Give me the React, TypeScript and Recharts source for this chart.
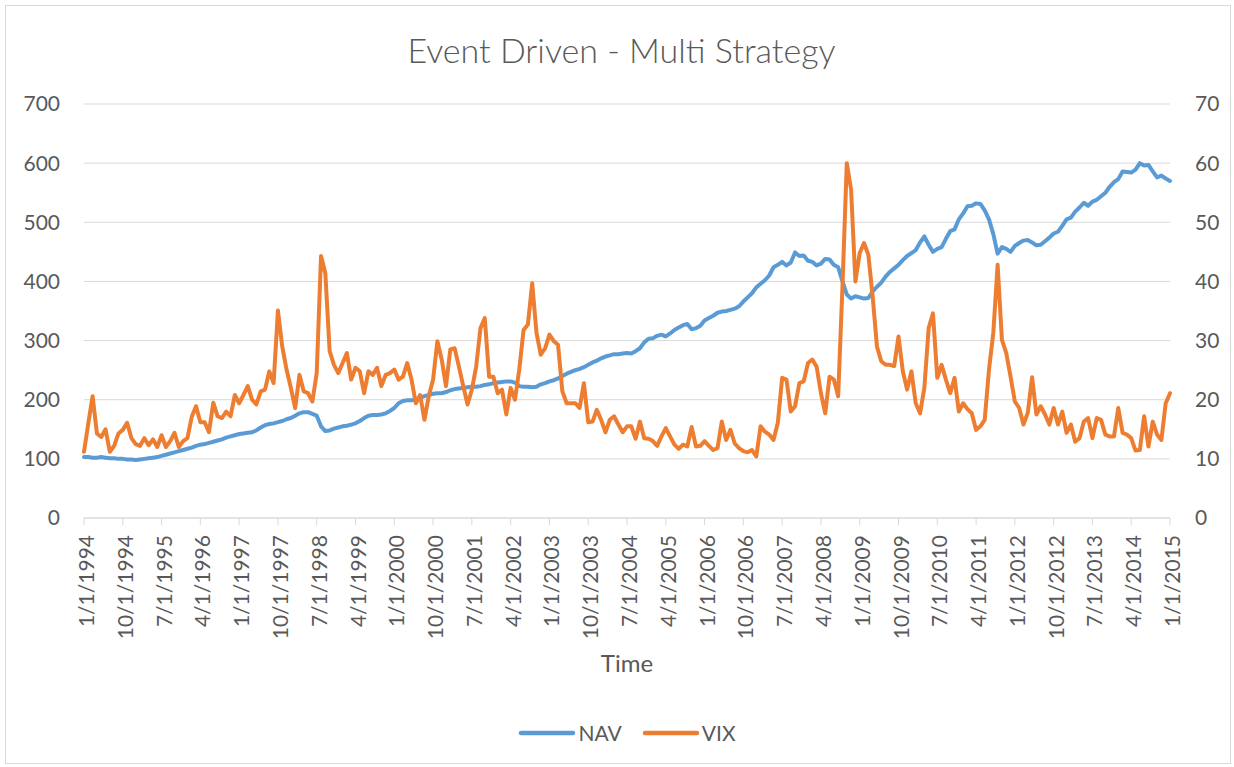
import React from 'react';
import { LineChart, Line, XAxis, YAxis, CartesianGrid, Legend } from 'recharts';

const TITLE = 'Event Driven - Multi Strategy';
const X_AXIS_TITLE = 'Time';
const SERIES_NAMES = ['NAV', 'VIX'];

// Monthly observations, Jan 1994 .. Jan 2015 (253 months)
const NAV = [
  103, 103, 102, 102, 103, 102, 101, 101, 100, 100,
  99, 99, 98, 99, 100, 101, 102, 103, 105, 107,
  109, 111, 113, 115, 117, 119, 122, 124, 125, 127,
  129, 131, 133, 136, 138, 140, 142, 143, 144, 145,
  148, 153, 157, 159, 160, 162, 164, 167, 169, 173,
  177, 179, 179, 176, 173, 155, 147, 148, 151, 153,
  155, 156, 158, 160, 164, 169, 173, 174, 174, 175,
  177, 181, 186, 194, 198, 199, 199, 200, 203, 206,
  208, 210, 211, 211, 213, 216, 218, 219, 220, 221,
  222, 222, 223, 225, 226, 228, 229, 230, 231, 231,
  229, 223, 222, 222, 221, 222, 226, 228, 231, 233,
  236, 240, 244, 247, 250, 252, 255, 259, 263, 266,
  270, 273, 275, 277, 277, 278, 279, 278, 282, 287,
  297, 303, 304, 308, 310, 307, 312, 318, 322, 326,
  328, 319, 321, 325, 334, 338, 342, 347, 349, 350,
  352, 354, 358, 366, 373, 380, 390, 396, 402, 410,
  424, 428, 433, 427, 432, 449, 443, 444, 435, 433,
  427, 430, 438, 437, 428, 424, 400, 378, 371, 375,
  373, 371, 372, 383, 391, 398, 408, 416, 422, 428,
  436, 443, 448, 453, 466, 476, 462, 450, 455, 458,
  472, 485, 488, 505, 515, 527, 528, 532, 531, 520,
  505, 480, 447, 458, 455, 450, 460, 465, 469, 470,
  466, 461, 462, 468, 474, 481, 484, 494, 505, 508,
  518, 525, 533, 528, 535, 538, 544, 550, 560, 568,
  573, 586, 585, 584, 589, 600, 596, 597, 586, 576,
  579, 574, 570,
];

const VIX = [
  11.2, 16.0, 20.6, 14.3, 13.7, 15.0, 11.2, 12.2, 14.3, 14.9,
  16.1, 13.5, 12.5, 12.2, 13.5, 12.3, 13.3, 12.0, 14.0, 12.0,
  13.0, 14.4, 12.0, 13.0, 13.5, 17.1, 18.9, 16.2, 16.2, 14.5,
  19.5, 17.2, 16.9, 18.0, 17.2, 20.8, 19.4, 20.8, 22.3, 20.0,
  19.2, 21.4, 21.7, 24.8, 22.8, 35.1, 29.0, 25.1, 22.0, 18.6,
  24.2, 21.4, 21.1, 19.7, 24.5, 44.3, 41.4, 28.2, 25.9, 24.5,
  26.2, 27.9, 23.4, 25.4, 24.8, 21.1, 24.8, 24.2, 25.4, 22.3,
  24.2, 24.5, 25.1, 23.4, 23.9, 26.2, 23.4, 19.4, 20.8, 16.6,
  20.6, 23.4, 29.9, 26.8, 22.3, 28.5, 28.7, 25.6, 22.3, 19.2,
  21.7, 25.6, 32.1, 33.8, 23.9, 23.9, 21.1, 21.7, 17.5, 22.0,
  20.0, 25.1, 31.8, 32.7, 39.7, 31.3, 27.6, 28.7, 31.0, 29.9,
  29.3, 21.4, 19.4, 19.4, 19.4, 18.6, 22.8, 16.2, 16.3, 18.3,
  16.6, 14.5, 16.6, 17.2, 15.8, 14.5, 15.5, 15.5, 13.4, 16.3,
  13.5, 13.4, 13.0, 12.2, 13.8, 15.2, 13.8, 12.4, 11.7, 12.4,
  12.1, 15.4, 12.1, 12.2, 13.0, 12.2, 11.5, 11.8, 16.3, 13.2,
  14.9, 12.6, 11.8, 11.3, 11.1, 11.5, 10.4, 15.5, 14.6, 14.1,
  13.2, 16.1, 23.7, 23.4, 18.0, 18.9, 22.8, 23.1, 26.2, 26.8,
  25.6, 21.1, 17.7, 23.9, 23.4, 20.6, 39.2, 60.0, 55.5, 40.0,
  44.8, 46.5, 44.5, 37.5, 29.0, 26.5, 25.9, 25.9, 25.7, 30.7,
  24.8, 21.7, 24.8, 19.4, 17.7, 22.0, 32.1, 34.6, 23.7, 25.9,
  23.4, 21.1, 23.7, 18.0, 19.4, 18.4, 17.7, 14.9, 15.5, 16.6,
  25.1, 31.3, 42.8, 30.1, 27.9, 23.9, 19.7, 18.6, 15.8, 17.8,
  23.8, 17.5, 18.9, 17.5, 15.8, 18.6, 15.8, 18.0, 14.4, 15.8,
  12.9, 13.5, 16.3, 16.9, 13.5, 16.9, 16.6, 14.1, 13.8, 13.8,
  18.6, 14.4, 14.1, 13.5, 11.4, 11.5, 17.2, 12.1, 16.3, 14.1,
  13.2, 19.4, 21.1,
];

const X_TICK_LABELS = [
  '1/1/1994', '10/1/1994', '7/1/1995', '4/1/1996', '1/1/1997', '10/1/1997',
  '7/1/1998', '4/1/1999', '1/1/2000', '10/1/2000', '7/1/2001', '4/1/2002',
  '1/1/2003', '10/1/2003', '7/1/2004', '4/1/2005', '1/1/2006', '10/1/2006',
  '7/1/2007', '4/1/2008', '1/1/2009', '10/1/2009', '7/1/2010', '4/1/2011',
  '1/1/2012', '10/1/2012', '7/1/2013', '4/1/2014', '1/1/2015',
];
const X_TICK_STEP = 9; // months between labelled ticks
const LEFT_TICKS = [0, 100, 200, 300, 400, 500, 600, 700];
const RIGHT_TICKS = [0, 10, 20, 30, 40, 50, 60, 70];

const COLORS = ['#5B9BD5', '#ED7D31'];
const TEXT = '#595959';
const GRID = '#D9D9D9';
const FONT = 'Lato, "Open Sans", sans-serif';

const data = NAV.map((v, i) => ({ m: i, nav: v, vix: VIX[i] }));
const xTicks = X_TICK_LABELS.map((_, i) => i * X_TICK_STEP);

const XTick = (props: any) => {
  const { x, y, index } = props;
  return (
    <text
      x={x}
      y={y}
      dy={10}
      transform={`rotate(-90, ${x}, ${y})`}
      textAnchor="end"
      fill={TEXT}
      fontSize={21}
      fontFamily={FONT}
    >
      {X_TICK_LABELS[index]}
    </text>
  );
};

const TimeLabel = (props: any) => {
  const vb = props.viewBox || {};
  return (
    <text
      x={vb.x + vb.width / 2}
      y={662}
      textAnchor="middle"
      dominantBaseline="central"
      fill={TEXT}
      fontSize={24}
      fontFamily={FONT}
    >
      {X_AXIS_TITLE}
    </text>
  );
};

const LegendContent = () => (
  <div
    style={{
      display: 'flex',
      justifyContent: 'center',
      alignItems: 'center',
      height: 24,
      fontFamily: FONT,
      fontSize: 21,
      color: TEXT,
    }}
  >
    {SERIES_NAMES.map((name, i) => (
      <div key={name} style={{ display: 'flex', alignItems: 'center', marginLeft: i ? 20 : 0 }}>
        <svg width={58} height={10} style={{ display: 'block' }}>
          <line x1={3} y1={5} x2={55} y2={5} stroke={COLORS[i]} strokeWidth={4.5} strokeLinecap="round" />
        </svg>
        <span style={{ marginLeft: 2, lineHeight: '24px' }}>{name}</span>
      </div>
    ))}
  </div>
);

export default function App() {
  return (
    <div style={{ position: 'fixed', left: 0, top: 0, width: 1234, height: 767, background: '#fff' }}>
      <div
        style={{
          position: 'absolute',
          left: 5,
          top: 5,
          width: 1226,
          height: 759,
          border: `1px solid ${GRID}`,
          boxSizing: 'border-box',
        }}
      />
      <div
        style={{
          position: 'absolute',
          left: 0,
          top: 28,
          width: 1243,
          textAlign: 'center',
          fontFamily: FONT,
          fontSize: 34,
          lineHeight: '44px',
          color: TEXT,
          fontWeight: 300,
        }}
      >
        {TITLE}
      </div>
      <div style={{ position: 'absolute', left: 0, top: 0 }}>
        <LineChart
          width={1234}
          height={767}
          data={data}
          margin={{ top: 104, right: 0, left: 0, bottom: 22 }}
        >
          <CartesianGrid vertical={false} stroke={GRID} />
          <XAxis
            dataKey="m"
            type="number"
            domain={[0, 252]}
            ticks={xTicks}
            interval={0}
            height={203}
            tickSize={7}
            tickMargin={10}
            tickLine={{ stroke: GRID }}
            axisLine={{ stroke: GRID }}
            tick={<XTick />}
            label={<TimeLabel />}
          />
          <YAxis
            yAxisId={0}
            width={84}
            domain={[0, 700]}
            ticks={LEFT_TICKS}
            interval={0}
            tickSize={0}
            tickMargin={24}
            tickLine={false}
            axisLine={false}
            tick={{ fill: TEXT, fontSize: 21, fontFamily: FONT }}
          />
          <YAxis
            yAxisId="right"
            orientation="right"
            width={64}
            domain={[0, 70]}
            ticks={RIGHT_TICKS}
            interval={0}
            tickSize={0}
            tickMargin={25}
            tickLine={false}
            axisLine={false}
            tick={{ fill: TEXT, fontSize: 21, fontFamily: FONT, textAnchor: 'start' }}
          />
          <Legend
            verticalAlign="bottom"
            content={<LegendContent />}
            wrapperStyle={{ left: 84, width: 1086, height: 24 }}
          />
          <Line
            yAxisId={0}
            dataKey="nav"
            name={SERIES_NAMES[0]}
            stroke={COLORS[0]}
            strokeWidth={4}
            dot={false}
            strokeLinejoin="round"
            strokeLinecap="round"
            isAnimationActive={false}
          />
          <Line
            yAxisId="right"
            dataKey="vix"
            name={SERIES_NAMES[1]}
            stroke={COLORS[1]}
            strokeWidth={4}
            dot={false}
            strokeLinejoin="round"
            strokeLinecap="round"
            isAnimationActive={false}
          />
        </LineChart>
      </div>
    </div>
  );
}
